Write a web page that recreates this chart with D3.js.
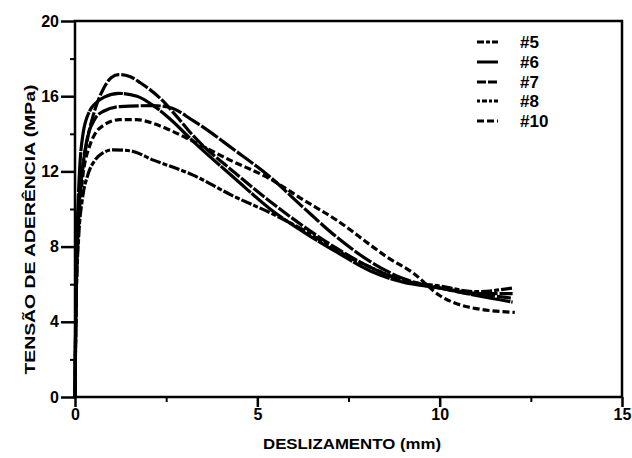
<!DOCTYPE html>
<html><head><meta charset="utf-8">
<script src="https://cdn.jsdelivr.net/npm/d3@7"></script>
<style>
html,body{margin:0;padding:0;background:#fff;}
svg{display:block;font-family:"Liberation Sans",Arial,sans-serif;font-weight:bold;}
</style></head>
<body>
<svg id="chart" width="632" height="458"></svg>
<script>
const seriesNames = ["#5", "#6", "#7", "#8", "#10"];
const dashes = ["14,2", "40,1", "20,2", "7,3", "11,2,5,2"];
const s5 = [[0,0],[0.03,6],[0.1,10],[0.2,12],[0.35,13.8],[0.55,15.3],[0.78,16.4],[1.0,17.0],[1.2,17.15],[1.5,17.05],[1.8,16.7],[2.33,15.9],[2.8,14.9],[3.24,13.9],[4.4,11.9],[5.35,10.4],[6.25,9.1],[7.18,7.9],[8.1,6.9],[9.0,6.2],[10.0,5.8],[11.0,5.5],[12.0,5.25]];
const s6 = [[0,0],[0.03,6],[0.1,11],[0.22,14.0],[0.4,15.2],[0.55,15.6],[0.8,15.95],[1.2,16.15],[1.7,16.0],[2.15,15.5],[2.6,14.8],[3.24,13.6],[4.4,11.6],[5.35,10.0],[6.25,8.8],[7.18,7.7],[8.1,6.7],[9.0,6.1],[10.0,5.8],[11.0,5.4],[12.0,5.05]];
const s7 = [[0,0],[0.03,5],[0.1,9.5],[0.2,12],[0.32,13.6],[0.55,14.8],[0.78,15.2],[1.23,15.45],[2.15,15.5],[2.6,15.4],[3.24,14.7],[4.4,13.1],[5.35,11.7],[6.25,10.1],[7.18,8.5],[8.1,7.2],[9.0,6.3],[10.0,5.8],[11.0,5.5],[12.0,5.5]];
const s8 = [[0,0],[0.03,5],[0.1,9],[0.2,11.5],[0.41,13.4],[0.55,14.0],[0.78,14.45],[1.23,14.75],[1.69,14.75],[2.15,14.55],[2.6,14.2],[3.24,13.6],[4.25,12.6],[5.35,11.6],[6.25,10.5],[7.18,9.4],[8.09,8.1],[8.55,7.45],[9.27,6.6],[10.0,5.4],[10.75,4.8],[12.06,4.5]];
const s10 = [[0,0],[0.03,5],[0.1,8.5],[0.2,10.5],[0.35,11.8],[0.55,12.6],[0.78,13.0],[1.04,13.15],[1.5,13.1],[2.15,12.6],[3.24,11.8],[4.33,10.7],[5.35,9.8],[6.25,8.9],[7.18,7.8],[8.1,6.9],[9.0,6.2],[10.0,5.9],[11.0,5.6],[12.0,5.8]];
const seriesValues = [s5, s6, s7, s8, s10];
const xTicks = [0, 5, 10, 15];
const xMinor = [2.5, 7.5, 12.5];
const yTicks = [0, 4, 8, 12, 16, 20];
const yMinor = [2, 6, 10, 14, 18];
const xTitle = "DESLIZAMENTO (mm)";
const yTitle = "TENSÃO DE ADERÊNCIA (MPa)";

const svg = d3.select("#chart");
const L = 75, R = 622, T = 21, B = 397;
const x = d3.scaleLinear().domain([0, 15]).range([L, R]);
const y = d3.scaleLinear().domain([0, 20]).range([B, T]);

// frame
svg.append("rect").attr("x", L).attr("y", T).attr("width", R - L).attr("height", B - T)
  .attr("fill", "none").attr("stroke", "#000").attr("stroke-width", 2.5);

// x axis
const xAx = svg.append("g").attr("transform", `translate(0,${B})`)
  .call(d3.axisBottom(x).tickValues(xTicks).tickSize(10).tickPadding(2).tickFormat(d3.format("d")));
xAx.select(".domain").remove();
xAx.selectAll("line").attr("stroke-width", 2.5);
xAx.selectAll("text").attr("font-size", 16).attr("font-weight", "bold").attr("font-family", "Liberation Sans, Arial, sans-serif");
const xAxm = svg.append("g").attr("transform", `translate(0,${B})`)
  .call(d3.axisBottom(x).tickValues(xMinor).tickSize(5).tickFormat(""));
xAxm.select(".domain").remove();
xAxm.selectAll("line").attr("stroke-width", 2);

// y axis
const yAx = svg.append("g").attr("transform", `translate(${L},0)`)
  .call(d3.axisLeft(y).tickValues(yTicks).tickSize(14).tickPadding(2).tickFormat(d3.format("d")));
yAx.select(".domain").remove();
yAx.selectAll("line").attr("stroke-width", 2.5);
yAx.selectAll("text").attr("font-size", 16).attr("font-weight", "bold").attr("font-family", "Liberation Sans, Arial, sans-serif");
const yAxm = svg.append("g").attr("transform", `translate(${L},0)`)
  .call(d3.axisLeft(y).tickValues(yMinor).tickSize(5).tickFormat(""));
yAxm.select(".domain").remove();
yAxm.selectAll("line").attr("stroke-width", 2);

// titles
svg.append("text").attr("x", (263 + 441) / 2).attr("y", 449).attr("text-anchor", "middle")
  .attr("font-size", 15).attr("textLength", 178).attr("lengthAdjust", "spacingAndGlyphs").text(xTitle);
svg.append("text").attr("transform", `translate(35,${(84 + 375) / 2}) rotate(-90)`).attr("text-anchor", "middle")
  .attr("font-size", 15).attr("textLength", 290).attr("lengthAdjust", "spacingAndGlyphs").text(yTitle);

// curves
const line = d3.line().x(d => x(d[0])).y(d => y(d[1])).curve(d3.curveMonotoneX);
svg.append("g").selectAll("path").data(seriesValues).join("path")
  .attr("d", line).attr("fill", "none").attr("stroke", "#000").attr("stroke-width", 3.2)
  .attr("stroke-dasharray", (d, i) => dashes[i]).attr("stroke-linejoin", "round");

// legend
const lg = svg.append("g");
const legY = [42, 62, 82, 101, 121];
const legDash = ["7,2,4,2", null, "9,2", "3,2,5,2", "7,3"];
seriesNames.forEach((n, i) => {
  lg.append("line").attr("x1", 477).attr("x2", 498).attr("y1", legY[i]).attr("y2", legY[i])
    .attr("stroke", "#000").attr("stroke-width", 3).attr("stroke-dasharray", legDash[i]);
  lg.append("text").attr("x", 520).attr("y", legY[i] + 6).attr("font-size", 17).text(n);
});
</script>
</body></html>
